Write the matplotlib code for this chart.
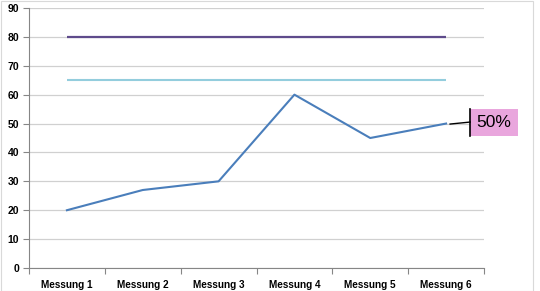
import matplotlib
matplotlib.use("Agg")
import matplotlib.pyplot as plt
from matplotlib.patches import Rectangle
from matplotlib.lines import Line2D

categories = ["Messung 1", "Messung 2", "Messung 3", "Messung 4", "Messung 5", "Messung 6"]
messwerte = [20, 27, 30, 60, 45, 50]
obergrenze = [80, 80, 80, 80, 80, 80]
zielwert = [65, 65, 65, 65, 65, 65]
label_text = "50%"

plt.rcParams['font.family'] = ['Liberation Sans', 'DejaVu Sans']

fig = plt.figure(figsize=(5.4, 2.91), dpi=100)
ax = fig.add_axes([29/540, 1-268/291, (484-29)/540, 260/291])

x = list(range(len(categories)))
ax.plot(x, obergrenze, color="#5E4B8B", lw=1.6, solid_capstyle='butt', zorder=3)
ax.plot(x, zielwert, color="#93CDDD", lw=1.5, solid_capstyle='butt', zorder=3)
ax.plot(x, messwerte, color="#4A7EBB", lw=1.5, zorder=4)

ax.set_xlim(-0.5, len(categories) - 0.5)
ax.set_ylim(0, 90)
ax.set_yticks(range(0, 91, 10))
ax.set_yticklabels([str(v) for v in range(0, 91, 10)], fontsize=7.5, fontweight='bold')
ax.set_xticks(x)
ax.set_xticklabels(categories, fontsize=7.2, fontweight='bold')
ax.tick_params(axis='x', length=0, pad=8.5)
ax.set_xticks([i - 0.5 for i in range(len(categories) + 1)], minor=True)
ax.tick_params(axis='x', which='minor', length=4, color="#868686", width=0.8)
ax.tick_params(axis='y', length=4, color="#868686", width=0.8, pad=3)
ax.grid(axis='y', color="#D0D0D0", lw=0.9)
ax.set_axisbelow(True)
for s in ['top', 'right']:
    ax.spines[s].set_visible(False)
for s in ['left', 'bottom']:
    ax.spines[s].set_color("#868686")
    ax.spines[s].set_linewidth(0.8)

# data label for last point
fig.canvas.draw()
px, py = ax.transData.transform((x[-1], messwerte[-1]))
fig.add_artist(Line2D([px + 4, px + 24], [py - 0.5, py + 1.5], color="black", lw=1.0, transform=None))
fig.add_artist(Rectangle((px + 24, py - 12.5), 48, 27, facecolor="#E9A6DD", edgecolor="none", transform=None))
fig.add_artist(Line2D([px + 24, px + 24], [py - 12.5, py + 14.5], color="black", lw=1.2, transform=None))
fig.text(px + 48, py + 1, label_text, fontsize=12.5, ha='center', va='center', transform=None)

# chart border
fig.add_artist(Rectangle((0.5, 0.5), 532, 290, facecolor="none", edgecolor="#D9D9D9", lw=0.8, transform=None))

fig.savefig("out.png", dpi=100)
